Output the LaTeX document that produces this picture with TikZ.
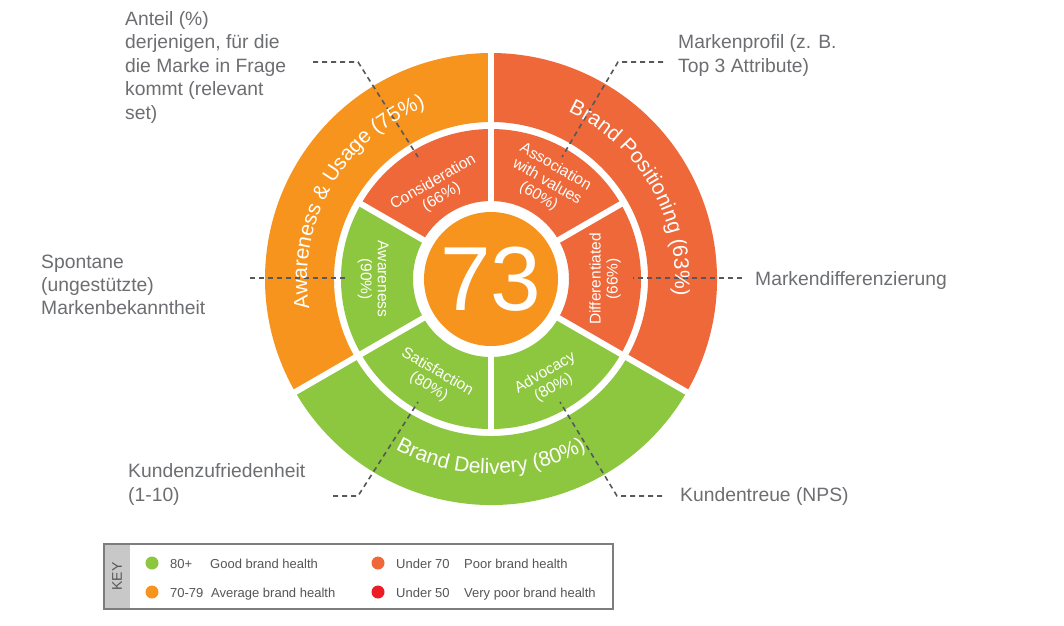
\documentclass[tikz,border=0pt]{standalone}
\usepackage{fontspec}
\setmainfont{Liberation Sans}
\definecolor{cOrange}{RGB}{247,148,29}
\definecolor{cRed}{RGB}{238,104,58}
\definecolor{cGreen}{RGB}{141,198,63}
\definecolor{cVred}{RGB}{237,28,36}
\definecolor{cLabel}{RGB}{109,110,113}
\definecolor{cKeyText}{RGB}{85,85,88}
\definecolor{cDash}{RGB}{85,88,92}
\definecolor{cKeyFill}{RGB}{200,200,200}
\definecolor{cKeyLine}{RGB}{125,125,125}
\newcommand\acSize{21}
\newcommand\ringfont{\fontsize{\acSize}{24}\selectfont}
\tikzset{
  conn/.style={draw=cDash, line width=1.6pt, dash pattern=on 5pt off 4pt},
  lbl/.style={text=cLabel, inner sep=0pt, align=left},
  seg/.style={text=white, inner sep=0pt, align=center, font=\fontsize{15.5}{17}\selectfont},
  gapline/.style={draw=white, line width=6pt},
  keytxt/.style={text=cKeyText, inner sep=0pt, anchor=base west, font=\fontsize{13}{15}\selectfont},
  keydot/.style={circle, inner sep=0pt, minimum size=13pt},
  ringchar/.style={anchor=base, inner sep=0pt, text=white, font=\ringfont}
}
% text set letter by letter along a circle (advance widths in em)
\newcommand\arcBegin[4]{% radius, centre angle, direction (1 clockwise, -1 anticlockwise), total width in em
  \gdef\acR{#1}\gdef\acDir{#3}%
  \pgfmathsetmacro\acStart{#2+#3*#4*\acSize/2/#1*180/pi}%
  \xdef\acCur{\acStart}%
}
\newcommand\arcSkip[1]{%
  \pgfmathsetmacro\acNxt{\acCur-\acDir*#1*\acSize/\acR*180/pi}%
  \xdef\acCur{\acNxt}%
}
\newcommand\arcChar[2]{%
  \pgfmathsetmacro\acPos{\acCur-\acDir*#2*\acSize/2/\acR*180/pi}%
  \pgfmathsetmacro\acRot{\acPos-\acDir*90}%
  \node[ringchar, rotate=\acRot] at (\acPos:\acR) {#1};%
  \arcSkip{#2}%
}
\begin{document}
\begin{tikzpicture}[x=1pt,y=1pt]
\fill[white] (0,0) rectangle (1064,-625);
\useasboundingbox (0,0) rectangle (1064,-625);

\begin{scope}[shift={(491,-279)}]
  % outer ring
  \fill[cOrange] (90:226) arc[start angle=90,end angle=210,radius=226] -- (210:157) arc[start angle=210,end angle=90,radius=157] -- cycle;
  \fill[cGreen] (210:226) arc[start angle=210,end angle=330,radius=226] -- (330:157) arc[start angle=330,end angle=210,radius=157] -- cycle;
  \fill[cRed] (-30:226) arc[start angle=-30,end angle=90,radius=226] -- (90:157) arc[start angle=90,end angle=-30,radius=157] -- cycle;
  % middle ring
  \fill[cRed] (90:150) arc[start angle=90,end angle=150,radius=150] -- (150:78) arc[start angle=150,end angle=90,radius=78] -- cycle;
  \fill[cGreen] (150:150) arc[start angle=150,end angle=330,radius=150] -- (330:78) arc[start angle=330,end angle=150,radius=78] -- cycle;
  \fill[cRed] (-30:150) arc[start angle=-30,end angle=90,radius=150] -- (90:78) arc[start angle=90,end angle=-30,radius=78] -- cycle;
  % radial gaps
  \foreach \a in {90,210,330} \draw[gapline] (\a:154) -- (\a:230);
  \foreach \a in {30,90,150,210,270,330} \draw[gapline] (\a:74) -- (\a:154);
  % centre
  \node[circle, fill=cOrange, minimum size=134pt, inner sep=0pt, text=white, font=\fontsize{91}{91}\selectfont] (score) at (0,0) {73};
\end{scope}

% connectors
\coordinate (a1) at (313,-62);  \coordinate (a2) at (358,-62);  \coordinate (a3) at (418,-157);
\coordinate (b1) at (663,-62);  \coordinate (b2) at (618,-62);  \coordinate (b3) at (562,-157);
\coordinate (s1) at (250,-278); \coordinate (s2) at (348,-278);
\coordinate (d1) at (742,-278); \coordinate (d2) at (633,-278);
\coordinate (z1) at (333,-496); \coordinate (z2) at (358,-496); \coordinate (z3) at (418,-402);
\coordinate (t1) at (662,-496); \coordinate (t2) at (617,-496); \coordinate (t3) at (560,-402);
\draw[conn] (a1) -- (a2) -- (a3);
\draw[conn] (b1) -- (b2) -- (b3);
\draw[conn] (s1) -- (s2);
\draw[conn] (d1) -- (d2);
\draw[conn] (z1) -- (z2) -- (z3);
\draw[conn] (t1) -- (t2) -- (t3);

\begin{scope}[shift={(491,-279)}]
  % ring texts
  \arcBegin{184}{150}{1}{12.004}%
  \arcChar{A}{.667}\arcChar{w}{.722}\arcChar{a}{.556}\arcChar{r}{.333}\arcChar{e}{.556}\arcChar{n}{.556}\arcChar{e}{.556}\arcChar{s}{.5}\arcChar{s}{.5}\arcSkip{.278}%
  \arcChar{\&}{.667}\arcSkip{.278}%
  \arcChar{U}{.722}\arcChar{s}{.5}\arcChar{a}{.556}\arcChar{g}{.556}\arcChar{e}{.556}\arcSkip{.278}%
  \arcChar{(}{.333}\arcChar{7}{.556}\arcChar{5}{.556}\arcChar{\%}{.889}\arcChar{)}{.333}%
  \arcBegin{184}{30}{1}{10.782}%
  \arcChar{B}{.667}\arcChar{r}{.333}\arcChar{a}{.556}\arcChar{n}{.556}\arcChar{d}{.556}\arcSkip{.278}%
  \arcChar{P}{.667}\arcChar{o}{.556}\arcChar{s}{.5}\arcChar{i}{.222}\arcChar{t}{.278}\arcChar{i}{.222}\arcChar{o}{.556}\arcChar{n}{.556}\arcChar{i}{.222}\arcChar{n}{.556}\arcChar{g}{.556}\arcSkip{.278}%
  \arcChar{(}{.333}\arcChar{6}{.556}\arcChar{3}{.556}\arcChar{\%}{.889}\arcChar{)}{.333}%
  \arcBegin{195}{270}{-1}{9.502}%
  \arcChar{B}{.667}\arcChar{r}{.333}\arcChar{a}{.556}\arcChar{n}{.556}\arcChar{d}{.556}\arcSkip{.278}%
  \arcChar{D}{.722}\arcChar{e}{.556}\arcChar{l}{.222}\arcChar{i}{.222}\arcChar{v}{.5}\arcChar{e}{.556}\arcChar{r}{.333}\arcChar{y}{.5}\arcSkip{.278}%
  \arcChar{(}{.333}\arcChar{8}{.556}\arcChar{0}{.556}\arcChar{\%}{.889}\arcChar{)}{.333}%
  % segment texts
  \node[seg, rotate=30] (consid) at (121:104) {Consideration\\(66\%)};
  \node[seg, rotate=-30] (assoc) at (60:112) {Association\\with values\\(60\%)};
  \node[seg, rotate=90] (diff) at (0:114) {Differentiated\\(66\%)};
  \node[seg, rotate=-90] (aware) at (180:118) {Awareness\\(90\%)};
  \node[seg, rotate=-30] (satis) at (240:116) {Satisfaction\\(80\%)};
  \node[seg, rotate=30] (advoc) at (300:117) {Advocacy\\(80\%)};
\end{scope}

% labels
\node[lbl, anchor=north west, font=\fontsize{19.3}{23.5}\selectfont] (lanteil) at (125,-11) {Anteil (\%)\\derjenigen, für die\\die Marke in Frage\\kommt (relevant\\set)};
\node[lbl, anchor=north west, font=\fontsize{19.3}{24.5}\selectfont] (lprofil) at (678,-34) {Markenprofil (z. B.\\Top 3 Attribute)};
\node[lbl, anchor=north west, font=\fontsize{19.3}{23}\selectfont] (lspont) at (41,-255) {Spontane\\(ungestützte)\\Markenbekanntheit};
\node[lbl, anchor=base west, font=\fontsize{19.3}{23}\selectfont] (ldiff) at (755,-285) {Markendifferenzierung};
\node[lbl, anchor=north west, font=\fontsize{19.3}{24.5}\selectfont] (lzufr) at (128,-463) {Kundenzufriedenheit\\(1-10)};
\node[lbl, anchor=base west, font=\fontsize{19.3}{23}\selectfont] (ltreue) at (680,-501) {Kundentreue (NPS)};

% key
\fill[cKeyFill] (104,-544) rectangle (130,-609);
\draw[cKeyLine, line width=1.5pt] (104,-544) rectangle (613,-609);
\node[rotate=90, text=cKeyText, inner sep=0pt, font=\fontsize{14}{16}\selectfont] (keylbl) at (117,-576.5) {KEY};
\node[keydot, fill=cGreen] (k1) at (152,-563) {};
\node[keytxt] (k1a) at (170,-568) {80+};
\node[keytxt] (k1b) at (210,-568) {Good brand health};
\node[keydot, fill=cOrange] (k2) at (152,-592) {};
\node[keytxt] (k2a) at (170,-597) {70-79};
\node[keytxt] (k2b) at (211,-597) {Average brand health};
\node[keydot, fill=cRed] (k3) at (378,-563) {};
\node[keytxt] (k3a) at (396,-568) {Under 70};
\node[keytxt] (k3b) at (464,-568) {Poor brand health};
\node[keydot, fill=cVred] (k4) at (378,-592) {};
\node[keytxt] (k4a) at (396,-597) {Under 50};
\node[keytxt] (k4b) at (464,-597) {Very poor brand health};
\end{tikzpicture}
\end{document}
